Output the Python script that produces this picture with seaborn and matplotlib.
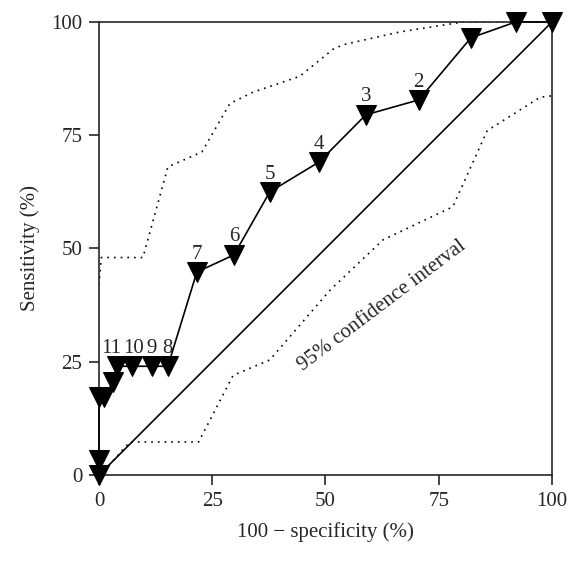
import numpy as np
import matplotlib.pyplot as plt
import pandas as pd
import seaborn as sns

# ROC points (100 - specificity, sensitivity)
fpr = [0, 0, 0, 1.2, 3.1, 4.0, 7.3, 11.7, 15.2, 21.6, 29.8, 37.7, 48.6, 58.9, 70.6, 82.1, 92.0, 100]
sens = [0, 3.3, 17.2, 17.2, 20.5, 24.0, 24.0, 24.0, 24.0, 44.8, 48.6, 62.5, 69.1, 79.5, 82.8, 96.5, 100, 100]
labels = ["", "", "", "", "", "11", "10", "9", "8", "7", "6", "5", "4", "3", "2", "", "", ""]

# 95% confidence band
ci_up_x = [0, 0.5, 9.7, 15.2, 22.7, 28.9, 34.0, 44.3, 51.7, 54.0, 66.4, 80.4, 100]
ci_up_y = [42, 48, 48, 68, 71.3, 82, 84.5, 88, 94, 95, 97.8, 100, 100]
ci_lo_x = [0, 1.3, 6.8, 22.0, 29.6, 37.7, 51.0, 62.7, 78.1, 85.7, 97.4, 100]
ci_lo_y = [0, 1.1, 7.3, 7.3, 22.0, 25.4, 40.8, 51.9, 59.2, 76.0, 83.4, 83.7]

ticks = [0, 25, 50, 75, 100]

sns.set_style("ticks")
plt.rcParams['font.family'] = ['Liberation Serif', 'DejaVu Serif']

fig = plt.figure(figsize=(5.8, 5.63), dpi=100)
ax = fig.add_axes([0.1707, 0.1563, 0.7810, 0.8047])

roc = pd.DataFrame({"x": fpr, "y": sens})
sns.lineplot(data=roc, x="x", y="y", sort=False, estimator=None, color="black", lw=1.2,
             marker="v", markersize=14, markeredgecolor="black", ax=ax,
             zorder=5, clip_on=False)
sns.lineplot(x=[0, 100], y=[0, 100], color="black", lw=1.2, ax=ax)
sns.lineplot(x=ci_up_x, y=ci_up_y, sort=False, estimator=None, color="black", lw=1.2,
             linestyle=(0, (1, 3)), ax=ax)
sns.lineplot(x=ci_lo_x, y=ci_lo_y, sort=False, estimator=None, color="black", lw=1.2,
             linestyle=(0, (1, 3)), ax=ax)

for x, y, t in zip(fpr, sens, labels):
    if t:
        dx = -4 if t == "11" else (1 if t == "10" else 0)
        ax.annotate(t, (x, y), xytext=(dx, 6), textcoords="offset points",
                    ha="center", va="bottom", fontsize=15)

ax.text(62.5, 37.3, "95% confidence interval", rotation=37, rotation_mode="anchor",
        ha="center", va="center", fontsize=15)

ax.set_xlim(0, 100)
ax.set_ylim(0, 100)
ax.set_xticks(ticks)
ax.set_yticks(ticks)
ax.tick_params(labelsize=15, length=7, width=1.2, direction="out", pad=5)
for s in ax.spines.values():
    s.set_linewidth(1.2)
ax.set_xlabel("100 \u2212 specificity (%)", fontsize=15, labelpad=8)
ax.set_ylabel("Sensitivity (%)", fontsize=15, labelpad=8)

fig.savefig("out.png", dpi=100)
